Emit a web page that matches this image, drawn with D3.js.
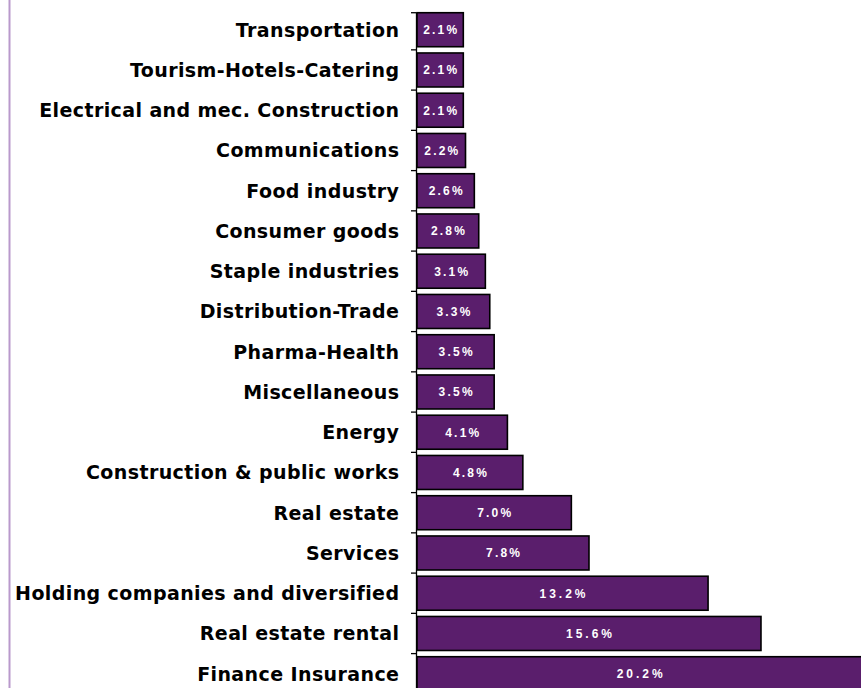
<!DOCTYPE html>
<html><head><meta charset="utf-8">
<script src="https://cdn.jsdelivr.net/npm/d3@7"></script>
<style>body{margin:0;background:#fff;overflow:hidden}</style>
</head><body>
<svg id="c" width="861" height="688"></svg>
<script>
const categories = ["Transportation","Tourism-Hotels-Catering","Electrical and mec. Construction","Communications","Food industry","Consumer goods","Staple industries","Distribution-Trade","Pharma-Health","Miscellaneous","Energy","Construction & public works","Real estate","Services","Holding companies and diversified","Real estate rental","Finance Insurance"];
const values = [2.1,2.1,2.1,2.2,2.6,2.8,3.1,3.3,3.5,3.5,4.1,4.8,7.0,7.8,13.2,15.6,20.2];

const svg = d3.select("#c");
const x0 = 417;
const x = d3.scaleLinear().domain([0, 20.2]).range([x0, x0 + 20.2*22.05]);
const y = d3.scaleBand().domain(categories).range([9.6, 9.6 + 17*40.25]).paddingInner(0.155).paddingOuter(0.0775);

// left border
svg.append("line").attr("x1",9.5).attr("x2",9.5).attr("y1",0).attr("y2",688)
  .attr("stroke","#b999cc").attr("stroke-width",2);

const data = categories.map((c,i)=>({c, v: values[i]}));

svg.selectAll("rect.bar").data(data).join("rect").attr("class","bar")
  .attr("x", x(0)).attr("y", d=>y(d.c))
  .attr("width", d=>x(d.v)-x(0)).attr("height", y.bandwidth())
  .attr("fill","#5a1e6c").attr("stroke","#000").attr("stroke-width",1.6);

// axis
const ax = svg.append("g");
ax.append("line").attr("x1",x0-0.5).attr("x2",x0-0.5).attr("y1",y(categories[0])).attr("y2",688)
  .attr("stroke","#000").attr("stroke-width",1.3);
const tickYs = [y(categories[0])].concat(categories.slice(1).map(c=>y(c) - (y.step()-y.bandwidth())/2));
ax.selectAll("line.t").data(tickYs).join("line").attr("class","t")
  .attr("x1",x0-6).attr("x2",x0-0.5).attr("y1",d=>d).attr("y2",d=>d)
  .attr("stroke","#000").attr("stroke-width",1.3);

const ls = 0.4;
svg.selectAll("text.cat").data(data).join("text").attr("class","cat")
  .attr("x", 399 + ls).attr("y", d=>y(d.c)+y.bandwidth()/2).attr("dy","0.36em")
  .attr("text-anchor","end")
  .style("font-family","Verdana, 'DejaVu Sans', sans-serif").style("font-weight","bold").style("font-size","19px")
  .style("letter-spacing", ls+"px")
  .attr("fill","#000").text(d=>d.c);

svg.selectAll("text.val").data(data).join("text").attr("class","val")
  .attr("x", d=>(x(0)+x(d.v))/2 + (d.v>=10?1.5:1.1)).attr("y", d=>y(d.c)+y.bandwidth()/2).attr("dy","0.36em")
  .attr("text-anchor","middle")
  .style("font-family","Arial, 'Liberation Sans', sans-serif").style("font-weight","bold").style("font-size","12px")
  .style("letter-spacing", d=>(d.v>=10?3:2.2)+"px")
  .attr("fill","#fff").text(d=>d.v.toFixed(1)+"%");
</script>
</body></html>
